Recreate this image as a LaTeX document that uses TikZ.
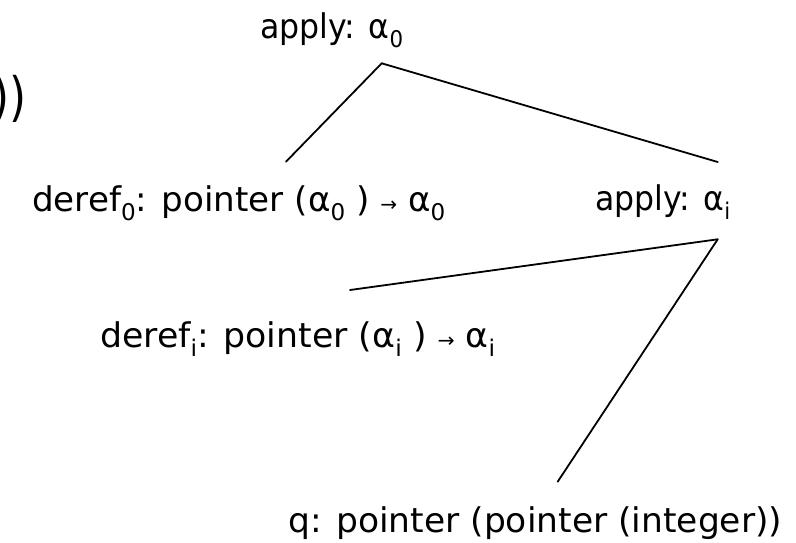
\documentclass[tikz,border=0pt]{standalone}
\usepackage{fontspec}
\setmainfont{DejaVu Sans}
\newcommand{\sbs}[1]{\raisebox{-0.28em}{\fontsize{23}{23}\selectfont #1}}
\newcommand{\smarrow}{{\fontsize{20}{20}\selectfont →}}
\newcommand{\fitw}[2]{\resizebox{#1}{\height}{#2}}
\begin{document}
\begin{tikzpicture}[x=1pt,y=-1pt,
  lbl/.style={inner sep=0pt,font=\fontsize{34}{34}\selectfont},
  edge/.style={line width=1.8pt,line cap=round}]
\useasboundingbox (0,0) rectangle (796,542);
\node[inner sep=0pt,anchor=base east,font=\fontsize{53}{53}\selectfont] (frag) at (27,115) {\fitw{34pt}{))}};
\node[lbl,anchor=base west] (ap0) at (260,38) {\fitw{143pt}{apply: α\sbs{0}}};
\node[lbl,anchor=base west] (dr0) at (32,211) {\fitw{413pt}{deref\sbs{0}: pointer (α\sbs{0} ) \smarrow{} α\sbs{0}}};
\node[lbl,anchor=base west] (api) at (595,210) {\fitw{135pt}{apply: α\sbs{i}}};
\node[lbl,anchor=base west] (dri) at (100,347) {\fitw{395pt}{deref\sbs{i}: pointer (α\sbs{i} ) \smarrow{} α\sbs{i}}};
\node[lbl,anchor=base west] (q) at (288,532) {\fitw{494pt}{q: pointer (pointer (integer))}};
\coordinate (ap0b) at (381.7,63.3);
\coordinate (dr0t) at (286,161.7);
\coordinate (apit) at (717.7,162);
\coordinate (apib) at (717.7,239.3);
\coordinate (drit) at (350,290);
\coordinate (qt) at (557.7,481.7);
\draw[edge] (ap0b) -- (dr0t);
\draw[edge] (ap0b) -- (apit);
\draw[edge] (apib) -- (drit);
\draw[edge] (apib) -- (qt);
\end{tikzpicture}
\end{document}
